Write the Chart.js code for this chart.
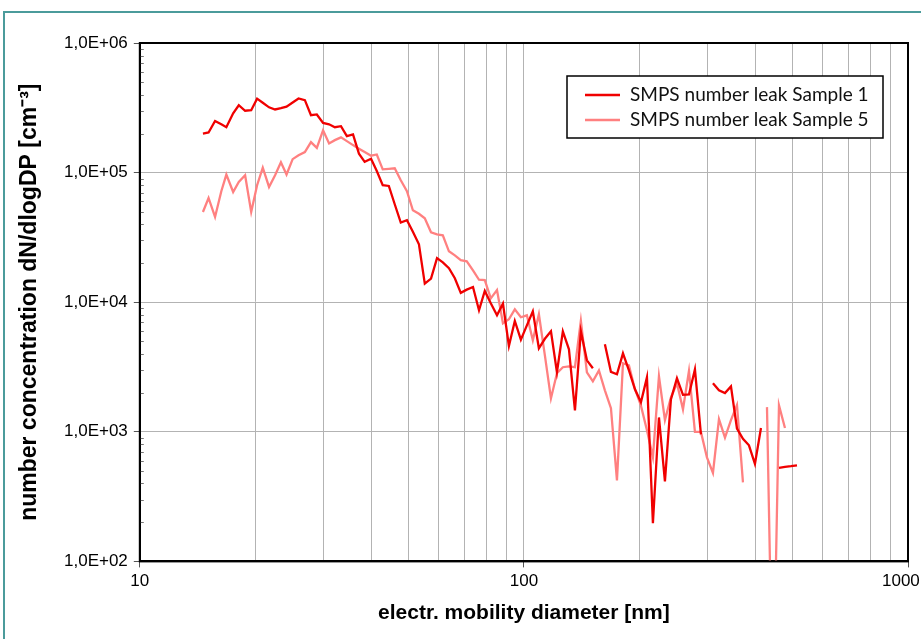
<!DOCTYPE html>
<html lang="en">
<head>
<meta charset="UTF-8">
<title>SMPS number leak</title>
<style>
    html, body {
        margin: 0;
        padding: 0;
        background: #fff;
        overflow: hidden;
    }
    #wrap {
        position: absolute;
        left: 0;
        top: 0;
        width: 921px;
        height: 639px;
    }
    #frame {
        position: absolute;
        left: 3px;
        top: 11px;
        width: 960px;
        height: 700px;
        border: 2px solid #4b9b9b;
        pointer-events: none;
    }
</style>
</head>
<body>
<div id="wrap"><canvas id="chart" width="921" height="639"></canvas></div>
<div id="frame"></div>

<script src="https://cdn.jsdelivr.net/npm/chart.js@4.4.1/dist/chart.umd.min.js"></script>
<script>
    // electrical mobility diameter of each SMPS channel [nm]
    const diameters = [
        14.6, 15.1, 15.7, 16.3, 16.8, 17.5, 18.1, 18.8, 19.5, 20.2,
        20.9, 21.7, 22.5, 23.3, 24.1, 25.0, 25.9, 26.9, 27.9, 28.9,
        30.0, 31.1, 32.2, 33.4, 34.6, 35.9, 37.2, 38.5, 40.0, 41.4,
        42.9, 44.5, 46.1, 47.8, 49.6, 51.4, 53.3, 55.2, 57.3, 59.4,
        61.5, 63.8, 66.1, 68.5, 71.0, 73.7, 76.4, 79.1, 82.0, 85.1,
        88.2, 91.4, 94.7, 98.2, 101.8, 105.5, 109.4, 113.4, 117.6, 121.9,
        126.3, 131.0, 135.8, 140.7, 145.9, 151.2, 156.8, 162.5, 168.5, 174.7,
        181.1, 187.7, 194.6, 201.7, 209.1, 216.7, 224.7, 232.9, 241.4, 250.3,
        259.5, 269.0, 278.8, 289.0, 299.6, 310.6, 322.0, 333.8, 346.0, 358.7,
        371.8, 385.4, 399.5, 414.2, 429.4, 445.1, 461.4, 478.3, 495.8, 514.0
    ];

    // dN/dlogDP [cm-3], null = no value
    const sample1 = [
        2.00e5, 2.04e5, 2.50e5, 2.36e5, 2.24e5, 2.87e5, 3.31e5, 3.00e5, 3.03e5, 3.72e5,
        3.46e5, 3.19e5, 3.07e5, 3.14e5, 3.23e5, 3.47e5, 3.73e5, 3.62e5, 2.77e5, 2.81e5,
        2.42e5, 2.36e5, 2.24e5, 2.28e5, 1.91e5, 1.97e5, 1.40e5, 1.21e5, 1.28e5, 1.03e5,
        7.99e4, 7.89e4, 5.70e4, 4.12e4, 4.29e4, 3.50e4, 2.80e4, 1.39e4, 1.52e4, 2.19e4,
        2.03e4, 1.83e4, 1.53e4, 1.18e4, 1.25e4, 1.31e4, 8.66e3, 1.22e4, 9.80e3, 7.92e3,
        9.75e3, 4.59e3, 7.16e3, 5.14e3, 6.63e3, 8.51e3, 4.41e3, 5.22e3, 5.96e3, 2.88e3,
        5.96e3, 4.33e3, 1.46e3, 5.96e3, 3.56e3, 3.09e3, null, 4.73e3, 2.90e3, 2.78e3,
        4.03e3, 2.98e3, 2.13e3, 1.69e3, 2.63e3, 197, 1.29e3, 414, 1.78e3, 2.59e3,
        1.93e3, 1.94e3, 3.03e3, 956, null, 2.37e3, 2.09e3, 1.99e3, 2.24e3, 1.06e3,
        882, 787, 566, 1.07e3, null, null, 527, 537, 543, 551
    ];

    const sample5 = [
        4.97e4, 6.37e4, 4.55e4, 7.18e4, 9.66e4, 7.09e4, 8.47e4, 9.54e4, 4.97e4, 7.99e4,
        1.09e5, 7.75e4, 9.54e4, 1.20e5, 9.66e4, 1.27e5, 1.36e5, 1.44e5, 1.72e5, 1.55e5,
        2.12e5, 1.68e5, 1.78e5, 1.87e5, 1.75e5, 1.63e5, 1.53e5, 1.44e5, 1.35e5, 1.38e5,
        1.06e5, 1.07e5, 1.08e5, 8.73e4, 7.18e4, 5.12e4, 4.81e4, 4.44e4, 3.46e4, 3.34e4,
        3.28e4, 2.47e4, 2.30e4, 2.11e4, 2.07e4, 1.76e4, 1.49e4, 1.48e4, 1.07e4, 1.24e4,
        6.87e3, 7.39e3, 8.81e3, 7.65e3, 7.92e3, 5.08e3, 8.07e3, 3.89e3, 1.81e3, 2.83e3,
        3.15e3, 3.20e3, 3.15e3, 7.19e3, 2.88e3, 2.45e3, 2.98e3, 2.09e3, 1.52e3, 422,
        3.38e3, 3.26e3, 2.13e3, 1.59e3, 1.03e3, 635, 2.68e3, 1.23e3, 1.84e3, 2.37e3,
        1.49e3, 2.95e3, 997, 997, 635, 481, 1.25e3, 901, 1.23e3, 1.61e3,
        407, null, null, null, 1.55e3, 6, 1.60e3, 1.07e3, null, null
    ];

    const seriesNames = ['SMPS number leak Sample 1', 'SMPS number leak Sample 5'];

    // axis ticks (trailing spaces nudge the last label inside the page, like the original)
    const xTicks = [10, 20, 30, 40, 50, 60, 70, 80, 90, 100, 200, 300, 400, 500, 600, 700, 800, 900, 1000];
    const xTickLabels = ['10', '', '', '', '', '', '', '', '', '100', '', '', '', '', '', '', '', '', '1000   '];
    const yTicks = [1e2, 1e3, 1e4, 1e5, 1e6];
    const yTickLabels = ['1,0E+02', '1,0E+03', '1,0E+04', '1,0E+05', '1,0E+06'];
    const yMinorSteps = [2, 3, 4, 5, 6, 7, 8, 9];

    const tickFont = { family: "'Liberation Sans', Arial, sans-serif", size: 17 };
    const xTitleFont = { family: "'Liberation Sans', Arial, sans-serif", size: 21, weight: 'bold' };
    const yTitleFont = { family: "'Liberation Sans', Arial, sans-serif", size: 23, weight: 'bold' };
    const gridGray = '#b3b3b3';

    // frame round the plot, minor y ticks and the boxed legend
    const decorations = {
        id: 'decorations',
        afterDraw(chart) {
            const ctx = chart.ctx;
            const a = chart.chartArea;
            const y = chart.scales.y;
            ctx.save();

            ctx.strokeStyle = '#777';
            ctx.lineWidth = 1;
            for (let d = 100; d < 1e6; d *= 10) {
                yMinorSteps.forEach(m => {
                    const py = Math.round(y.getPixelForValue(m * d)) + 0.5;
                    ctx.beginPath();
                    ctx.moveTo(a.left, py);
                    ctx.lineTo(a.left + 4, py);
                    ctx.stroke();
                });
            }

            ctx.strokeStyle = '#000';
            ctx.lineWidth = 2;
            ctx.strokeRect(a.left, a.top, a.right - a.left, a.bottom - a.top);

            // legend
            const bx = 567, by = 76, bw = 316, bh = 62;
            ctx.fillStyle = '#fff';
            ctx.fillRect(bx, by, bw, bh);
            ctx.lineWidth = 1.5;
            ctx.strokeStyle = '#000';
            ctx.strokeRect(bx, by, bw, bh);
            ctx.font = "19px Lato, 'Open Sans', sans-serif";
            ctx.textBaseline = 'middle';
            chart.data.datasets.forEach((ds, i) => {
                const ly = by + 19 + i * 25;
                ctx.strokeStyle = ds.borderColor;
                ctx.lineWidth = 2.5;
                ctx.beginPath();
                ctx.moveTo(bx + 18, ly);
                ctx.lineTo(bx + 53, ly);
                ctx.stroke();
                ctx.fillStyle = '#111';
                ctx.fillText(ds.label, bx + 63, ly);
            });
            ctx.restore();
        }
    };

    const ctx = document.getElementById('chart').getContext('2d');
    new Chart(ctx, {
        type: 'line',
        data: {
            datasets: [
                {
                    label: seriesNames[0],
                    data: diameters.map((d, i) => ({ x: d, y: sample1[i] })),
                    borderColor: '#f00000',
                    borderWidth: 2.3,
                    pointRadius: 0,
                    tension: 0,
                    spanGaps: false
                },
                {
                    label: seriesNames[1],
                    data: diameters.map((d, i) => ({ x: d, y: sample5[i] })),
                    borderColor: '#ff8080',
                    borderWidth: 2.3,
                    pointRadius: 0,
                    tension: 0,
                    spanGaps: false
                }
            ]
        },
        options: {
            responsive: false,
            animation: false,
            devicePixelRatio: 1,
            layout: { padding: { left: 6, top: 43, right: 13, bottom: 0 } },
            plugins: {
                legend: { display: false },
                tooltip: { enabled: false }
            },
            scales: {
                x: {
                    type: 'logarithmic',
                    min: 10,
                    max: 1000,
                    afterBuildTicks: s => { s.ticks = xTicks.map(v => ({ value: v })); },
                    afterFit: s => { s.paddingRight = 0; },
                    ticks: {
                        autoSkip: false,
                        maxRotation: 0,
                        minRotation: 0,
                        padding: 4,
                        color: '#000',
                        font: tickFont,
                        callback: (v, i) => xTickLabels[i]
                    },
                    grid: {
                        color: gridGray,
                        lineWidth: 1,
                        tickLength: 6,
                        tickColor: c => (c.tick && [10, 100, 1000].includes(c.tick.value)) ? '#555' : 'rgba(0,0,0,0)'
                    },
                    border: { display: true, color: '#000', width: 2 },
                    title: {
                        display: true,
                        text: 'electr. mobility diameter [nm]',
                        color: '#000',
                        font: xTitleFont,
                        padding: { top: 5, bottom: 13 }
                    }
                },
                y: {
                    type: 'logarithmic',
                    min: 100,
                    max: 1e6,
                    afterBuildTicks: s => { s.ticks = yTicks.map(v => ({ value: v })); },
                    ticks: {
                        autoSkip: false,
                        padding: 6,
                        color: '#000',
                        font: tickFont,
                        callback: (v, i) => yTickLabels[i]
                    },
                    grid: {
                        color: gridGray,
                        lineWidth: 1,
                        tickLength: 6,
                        tickColor: '#555'
                    },
                    border: { display: true, color: '#000', width: 2 },
                    title: {
                        display: true,
                        text: 'number concentration dN/dlogDP [cm⁻³]',
                        color: '#000',
                        font: yTitleFont,
                        padding: { top: 10, bottom: 14.4 }
                    }
                }
            }
        },
        plugins: [decorations]
    });
</script>
</body>
</html>
